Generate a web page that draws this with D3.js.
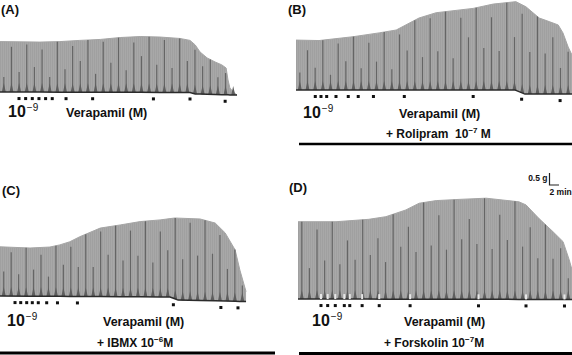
<!DOCTYPE html>
<html><head><meta charset="utf-8">
<script src="https://cdn.jsdelivr.net/npm/d3@7/dist/d3.min.js"></script>
<style>
body{margin:0;background:#fff}
svg{display:block}
text{font-family:"Liberation Sans",Arial,sans-serif;font-weight:bold;fill:#111}
</style>
</head><body>
<svg id="c" width="572" height="355"></svg>
<script>
// ---------- DATA (time in min, tension in g) ----------
// Panel A: control
const aEnvT  = [0, 8.4, 12.6, 16.8, 21.1, 25.3, 29.5, 33.7, 37.9, 40.0, 41.1, 42.1, 43.6, 45.3, 46.7, 47.6, 48.0, 48.4, 49.1, 49.9];
const aEnvG  = [2.10, 2.08, 2.10, 2.15, 2.19, 2.27, 2.31, 2.29, 2.23, 2.15, 1.96, 1.67, 1.42, 1.25, 1.13, 1.00, 0.50, 0.17, 0.00, -0.13];
const aBaseT = [0, 40.0, 41.1, 49.9];
const aBaseG = [0, -0.02, -0.08, -0.13];
const aDoses = [4.0, 5.4, 6.8, 8.2, 9.6, 11.0, 13.9, 19.5, 32.3, 40.0, 47.4];
const aSpikes = [0.3,0.9,0.4,0.95,0.5,0.85,0.3,1,0.45,0.9,0.6,1,0.35,0.95,0.55,1,0.4,0.9,0.65,1,0.5,0.95,0.45,1,0.6,0.9,0.7,1,0.55,0.8,0.3];

// Panel B: + Rolipram
const bEnvT  = [0, 4.84, 12.0, 17.5, 21.1, 25.9, 29.5, 37.3, 41.5, 46.3, 48.4, 51.2, 53.3, 55.2, 56.2, 57.3, 58.1];
const bEnvG  = [2.08, 2.06, 2.22, 2.38, 2.50, 3.00, 3.22, 3.40, 3.58, 3.68, 3.47, 3.00, 2.85, 2.71, 2.38, 1.79, 1.46];
const bBaseT = [0, 46.1, 48.2, 58.1];
const bBaseG = [0, 0, -0.17, -0.17];
const bDoses = [4.06, 5.26, 6.46, 8.42, 11.0, 13.1, 16.3, 22.8, 37.3, 47.5, 55.6];
const bSpikes = [0.35,0.8,0.45,1,0.3,0.9,0.55,1,0.4,0.85,0.5,1,0.35,0.9,0.6,1,0.45,0.95,0.5,1,0.4,0.9,0.65,1,0.5,0.85,0.45,1,0.6,0.9,0.5,1,0.55,0.8,0.4,0.9];

// Panel C: + IBMX
const cEnvT  = [0, 6.32, 10.5, 12.6, 14.7, 16.8, 21.1, 25.3, 29.5, 33.7, 36.8, 42.1, 45.3, 47.4, 49.5, 50.5, 51.8];
const cEnvG  = [2.05, 2.00, 2.04, 2.13, 2.26, 2.47, 2.83, 2.96, 3.10, 3.17, 3.25, 3.21, 3.04, 2.63, 1.92, 1.08, 0.18];
const cBaseT = [0, 35.8, 37.5, 51.8];
const cBaseG = [0, -0.04, -0.17, -0.23];
const cDoses = [3.16, 4.36, 5.62, 6.8, 8.06, 9.83, 12.1, 16.3, 36.5, 46.5, 50.1];
const cSpikes = [0.5,0.9,0.45,1,0.55,0.85,0.4,1,0.6,0.9,0.5,1,0.45,0.95,0.6,1,0.5,0.9,0.55,1,0.45,0.85,0.6,1,0.5,0.95,0.55,1,0.6,0.9,0.5,1,0.7];

// Panel D: + Forskolin
const dEnvT  = [0, 8.0, 14.9, 18.5, 22.7, 25.5, 29.1, 33.9, 39.6, 46.5, 48.0, 50.7, 53.7, 55.8, 57.1, 57.7];
const dEnvG  = [3.22, 3.22, 3.32, 3.43, 3.71, 3.99, 4.10, 4.15, 4.20, 4.05, 3.92, 3.36, 2.80, 2.39, 1.63, 1.21];
const dBaseT = [0, 57.7];
const dBaseG = [0, -0.02];
const dDoses = [4.84, 6.25, 7.85, 9.75, 10.9, 13.5, 17.1, 23.6, 38.0, 48.0, 56.1];
const dSpikes = [1,0.4,0.9,0.5,1,0.45,0.75,0.5,1,0.55,0.75,0.45,1,0.6,0.8,0.5,1,0.55,0.85,0.5,1,0.6,0.8,0.55,1,0.5,0.85,0.6,1,0.55,0.8,0.5,1,0.6,0.85,0.5];

// Text
const panelLabels = ["(A)", "(B)", "(C)", "(D)"];
const startConc = ["10", "\u22129"];
const agentLabel = "Verapamil (M)";
const treatments = [null, ["+ Rolipram\u00a0\u00a010", "\u22127", "\u00a0M"], ["+ IBMX 10", "\u22126", "M"], ["+ Forskolin 10", "\u22127", "M"]];
const scaleBarValues = [0.5, 2];          // g, min
const scaleBarLabels = ["0.5 g", "2 min"];

// ---------- LAYOUT ----------
const PX_PER_MIN = 4.75, PX_PER_G = 24;
const panels = [
  {envT:aEnvT, envG:aEnvG, baseT:aBaseT, baseG:aBaseG, doses:aDoses, spikes:aSpikes,
   x0:0, y0:92, lab:[1,14], conc:[8,117], agent:[66,117], treat:null, rule:null, marks:false},
  {envT:bEnvT, envG:bEnvG, baseT:bBaseT, baseG:bBaseG, doses:bDoses, spikes:bSpikes,
   x0:296, y0:90, lab:[288,14], conc:[303,118], agent:[399,118], treat:[386,138], rule:[299,572,144,2.6], marks:false},
  {envT:cEnvT, envG:cEnvG, baseT:cBaseT, baseG:cBaseG, doses:cDoses, spikes:cSpikes,
   x0:0, y0:296, lab:[2,195], conc:[7,326], agent:[103,326], treat:[97,347], rule:[0,275,353,3], marks:false},
  {envT:dEnvT, envG:dEnvG, baseT:dBaseT, baseG:dBaseG, doses:dDoses, spikes:dSpikes,
   x0:298, y0:299, lab:[289,192], conc:[312,326], agent:[404,326], treat:[384,347], rule:[299,572,353.5,3], marks:true}
];

const svg = d3.select("#c");
const defs = svg.append("defs");
const pat = defs.append("pattern").attr("id","tex").attr("patternUnits","userSpaceOnUse")
  .attr("width",2).attr("height",10);
pat.append("rect").attr("width",2).attr("height",10).attr("fill","#a8a8a8");
pat.append("rect").attr("x",0).attr("width",1).attr("height",10).attr("fill","#a0a0a0");

panels.forEach((p, i) => {
  const dur = p.envT[p.envT.length-1];
  const xs = d3.scaleLinear().domain([0, 60]).range([p.x0, p.x0 + 60*PX_PER_MIN]);
  const ys = d3.scaleLinear().domain([0, 4]).range([p.y0, p.y0 - 4*PX_PER_G]);
  const env = d3.scaleLinear().domain(p.envT).range(p.envG).clamp(true);
  const base = d3.scaleLinear().domain(p.baseT).range(p.baseG).clamp(true);
  const ts = Array.from(new Set(p.envT.concat(p.baseT))).sort((a,b)=>a-b);
  const g = svg.append("g");

  // trace envelope
  g.append("path").datum(ts)
    .attr("d", d3.area().x(t=>xs(t)).y0(t=>ys(base(t))).y1(t=>ys(env(t))))
    .attr("fill","url(#tex)");
  g.append("path").datum(ts)
    .attr("d", d3.line().x(t=>xs(t)).y(t=>ys(env(t))))
    .attr("fill","none").attr("stroke","#a5a5a5").attr("stroke-width",1);

  // individual contraction spikes
  const n = p.spikes.length;
  p.spikes.forEach((h, k) => {
    const t = (k + 0.5) * dur / n;
    const b = base(t), e = env(t);
    const xb = xs(t), yb = ys(b);
    g.append("line").attr("x1",xb).attr("x2",xb)
      .attr("y1",yb).attr("y2",ys(b + h*(e-b)))
      .attr("stroke","#656565").attr("stroke-width",1.2);
    g.append("path")
      .attr("d",`M${xb-2},${yb}L${xb},${yb-9}L${xb+2},${yb}Z`)
      .attr("fill","#5e5e5e");
  });

  // baseline
  g.append("path").datum(ts)
    .attr("d", d3.line().x(t=>xs(t)).y(t=>ys(base(t))))
    .attr("fill","none").attr("stroke","#2b2b2b").attr("stroke-width",1.5);

  // dose marks
  if (p.marks) {
    g.selectAll(".wm").data(p.doses).join("rect")
      .attr("x", t=>xs(t)-1).attr("y", t=>ys(base(t))-5)
      .attr("width",2).attr("height",5).attr("fill","#e8e8e8");
  }
  g.selectAll(".dot").data(p.doses).join("rect")
    .attr("x", t=>xs(t)-1.5).attr("y", t=>ys(base(t))+5)
    .attr("width",3).attr("height",3).attr("fill","#111");

  // texts
  g.append("text").attr("x",p.lab[0]).attr("y",p.lab[1]).attr("font-size",13).text(panelLabels[i]);
  const c = g.append("text").attr("x",p.conc[0]).attr("y",p.conc[1]).attr("font-size",16);
  c.append("tspan").text(startConc[0]);
  c.append("tspan").attr("dy",-6).attr("font-size",10).attr("font-weight","normal").attr("dx",1).text(startConc[1]);
  g.append("text").attr("x",p.agent[0]).attr("y",p.agent[1]).attr("font-size",12.5).text(agentLabel);
  if (p.treat) {
    const tr = treatments[i];
    const tt = g.append("text").attr("x",p.treat[0]).attr("y",p.treat[1]).attr("font-size",12);
    tt.append("tspan").text(tr[0]);
    tt.append("tspan").attr("dy",-5).attr("font-size",8).text(tr[1]);
    tt.append("tspan").attr("dy",5).text(tr[2]);
  }
  if (p.rule) {
    g.append("line").attr("x1",p.rule[0]).attr("x2",p.rule[1])
      .attr("y1",p.rule[2]).attr("y2",p.rule[2])
      .attr("stroke","#000").attr("stroke-width",p.rule[3]);
  }

  // scale bar in panel D
  if (i === 3) {
    const sx = 549.5, sy = 185;
    const vLen = ys(0) - ys(scaleBarValues[0]);
    const hLen = xs(scaleBarValues[1]) - xs(0);
    g.append("path").attr("d",`M${sx},${sy-vLen}V${sy}H${sx+hLen}`)
      .attr("fill","none").attr("stroke","#222").attr("stroke-width",1.2);
    g.append("text").attr("x",sx-2).attr("y",181).attr("text-anchor","end")
      .attr("font-size",8.5).text(scaleBarLabels[0]);
    g.append("text").attr("x",sx).attr("y",195)
      .attr("font-size",8.5).text(scaleBarLabels[1]);
  }
});
</script>
</body></html>
